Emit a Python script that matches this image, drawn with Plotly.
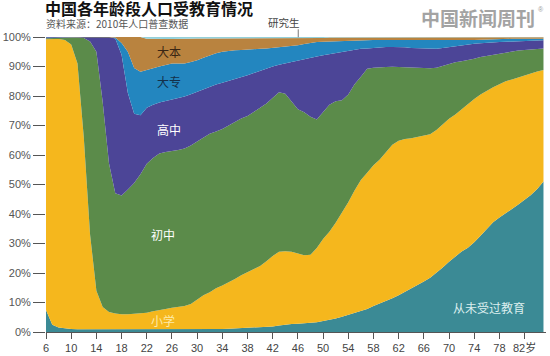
import plotly.graph_objects as go

ages = list(range(6, 86))

# cumulative upper boundary of each layer (% of age group)
never_top = [7.5, 2.5, 1.5, 1.2, 1.0, 0.9, 0.9, 0.9, 0.9, 0.9,
             0.9, 0.9, 0.9, 0.9, 0.9, 0.8, 0.8, 0.8, 0.8, 0.8,
             0.8, 0.8, 0.8, 0.8, 0.8, 0.9, 0.9, 1.0, 1.0, 1.1,
             1.2, 1.3, 1.4, 1.5, 1.5, 1.6, 1.9, 2.2, 2.5, 2.7,
             2.8, 2.9, 3.1, 3.3, 3.7, 4.1, 4.6, 5.2, 5.8, 6.4,
             7.0, 7.8, 8.8, 9.6, 10.4, 11.4, 12.5, 13.6, 14.8, 16.0,
             17.1, 18.4, 20.0, 21.9, 23.8, 25.5, 27.3, 28.6, 30.4, 32.6,
             34.8, 37.2, 38.8, 40.2, 41.6, 43.2, 44.8, 46.4, 48.5, 51.0]

primary_top = [99.2, 99.3, 99.3, 99.0, 97.5, 91.0, 66.0, 33.0, 14.0, 8.5,
               6.8, 6.3, 6.0, 6.0, 6.1, 6.3, 6.5, 7.0, 7.5, 7.8,
               8.2, 8.5, 8.8, 9.5, 11.0, 12.5, 13.5, 14.8, 15.8, 16.8,
               18.0, 19.2, 20.3, 21.4, 22.4, 24.0, 25.8, 27.2, 27.4, 27.2,
               26.6, 26.0, 26.2, 28.5, 31.5, 34.0, 37.0, 40.5, 44.0, 48.0,
               51.5, 54.0, 56.5, 58.5, 61.0, 63.5, 64.8, 65.4, 65.7, 66.1,
               66.5, 67.0, 68.5, 70.5, 72.3, 73.7, 75.5, 77.3, 79.0, 80.5,
               81.8, 83.0, 84.0, 85.0, 85.6, 86.3, 87.0, 87.7, 88.3, 88.8]

junior_top = [99.6, 99.7, 99.8, 99.8, 99.8, 99.8, 99.7, 98.5, 95.0, 78.0,
              57.2, 47.0, 46.3, 48.3, 50.5, 53.5, 57.0, 59.0, 60.5, 61.0,
              61.3, 61.7, 62.2, 63.2, 64.6, 66.0, 67.2, 68.0, 68.8, 70.0,
              71.2, 72.4, 73.2, 74.5, 76.0, 77.5, 79.5, 81.3, 80.8, 78.0,
              75.5, 74.5, 73.0, 72.0, 74.5, 77.0, 78.2, 78.6, 80.5, 84.0,
              86.5, 89.2, 89.6, 89.8, 89.8, 89.9, 89.8, 89.6, 89.6, 89.5,
              89.4, 89.4, 89.6, 90.2, 91.0, 91.4, 91.8, 92.1, 92.6, 93.2,
              93.6, 94.0, 94.4, 94.8, 95.1, 95.4, 95.6, 95.8, 96.0, 96.1]

senior_top = [99.9, 99.9, 99.9, 99.9, 99.9, 99.9, 99.95, 100, 100, 100,
              100, 99.5, 94.0, 81.0, 74.0, 73.5, 76.0, 77.0, 77.8, 78.3,
              78.8, 79.3, 79.8, 80.6, 81.4, 82.3, 83.2, 83.9, 84.5, 85.1,
              85.8, 86.4, 87.0, 87.8, 88.6, 89.3, 90.0, 90.6, 91.1, 91.6,
              92.1, 92.6, 93.0, 93.4, 93.8, 94.2, 94.6, 95.0, 95.4, 95.7,
              96.0, 96.1, 96.3, 96.5, 96.6, 96.6, 96.6, 96.5, 96.3, 96.2,
              96.1, 96.0, 96.0, 96.3, 96.6, 97.0, 97.3, 97.5, 97.7, 97.9,
              98.1, 98.2, 98.3, 98.4, 98.5, 98.6, 98.7, 98.8, 98.9, 98.9]

college_top = [100, 100, 100, 100, 100, 100, 100, 100, 100, 100,
               100, 99.8, 98.0, 95.0, 89.5, 88.2, 88.8, 89.5, 90.0, 90.5,
               91.0, 91.0, 91.0, 91.5, 92.1, 93.0, 93.8, 94.5, 95.0, 95.3,
               95.5, 95.6, 95.8, 95.9, 96.0, 96.1, 96.3, 96.6, 96.8, 97.0,
               97.2, 97.6, 98.0, 98.3, 98.4, 98.5, 98.6, 98.7, 98.7, 98.8,
               98.9, 98.9, 99.0, 99.0, 99.0, 99.0, 99.0, 99.0, 99.0, 99.0,
               99.0, 98.9, 98.8, 98.8, 98.8, 98.8, 98.8, 98.9, 99.0, 99.1,
               99.2, 99.3, 99.3, 99.4, 99.4, 99.4, 99.4, 99.4, 99.4, 99.4]

bachelor_top = [100, 100, 100, 100, 100, 100, 100, 100, 100, 100,
                100, 100, 100, 100, 100, 100, 99.4, 99.3, 99.3, 99.3,
                99.3, 99.4, 99.4, 99.5, 99.5, 99.5, 99.5, 99.6, 99.6, 99.6,
                99.6, 99.6, 99.6, 99.6, 99.6, 99.7, 99.7, 99.7, 99.7, 99.7,
                99.7, 99.7, 99.7, 99.7, 99.7, 99.8, 99.8, 99.8, 99.8, 99.8,
                99.8, 99.8, 99.8, 99.8, 99.8, 99.8, 99.8, 99.8, 99.9, 99.9,
                99.9, 99.9, 99.9, 99.9, 99.9, 99.9, 99.9, 99.9, 99.9, 99.9,
                99.9, 99.9, 99.9, 99.9, 99.9, 99.9, 99.9, 99.9, 99.9, 99.9]

grad_top = [100] * len(ages)

layer_names = ["从未受过教育", "小学", "初中", "高中", "大专", "大本", "研究生"]
layer_colors = ["#3b8a95", "#f5b71d", "#5b8b4a", "#4c4597", "#2386bf", "#b9833f", "#93d0da"]

tick_vals = [6, 10, 14, 18, 22, 26, 30, 34, 38, 42, 46, 50, 54, 58, 62, 66, 70, 74, 78, 82]
tick_text = ["6", "10", "14", "18", "22", "26", "30", "34", "38", "42", "46",
             "50", "54", "58", "62", "66", "70", "74", "78", "82岁"]
y_vals = [0, 10, 20, 30, 40, 50, 60, 70, 80, 90, 100]
y_text = ["0%", "10%", "20%", "30%", "40%", "50%", "60%", "70%", "80%", "90%", "100%"]

tops = [never_top, primary_top, junior_top, senior_top, college_top, bachelor_top, grad_top]

fig = go.Figure()
for i, (name, col, top) in enumerate(zip(layer_names, layer_colors, tops)):
    fig.add_trace(go.Scatter(
        x=ages, y=top, name=name, mode="lines",
        line=dict(width=0, color=col),
        fill="tozeroy" if i == 0 else "tonexty",
        fillcolor=col, hoverinfo="skip", showlegend=False))

CJK = "Noto Sans CJK SC"
annos = [
    ("大本", 25.5, 95.2, "#3a2614", 12),
    ("大专", 25.5, 84.8, "#14304a", 12),
    ("高中", 25.5, 68.5, "#ffffff", 12),
    ("初中", 24.5, 33.0, "#ffffff", 12),
    ("小学", 24.5, 3.8, "#fdeaa8", 12),
    ("从未受过教育", 76.3, 8.4, "#dcefef", 12),
]
for t, ax, ay, c, s in annos:
    fig.add_annotation(x=ax, y=ay, text=t, showarrow=False, xref="x", yref="y",
                       font=dict(family=CJK, size=s, color=c))

L, R, T, B = 45.5, 4, 36.7, 24
W, H = 550, 356
fig.update_layout(
    width=W, height=H,
    margin=dict(l=L, r=R, t=T, b=B, autoexpand=False),
    paper_bgcolor="white", plot_bgcolor="white",
    font=dict(family="Liberation Sans, " + CJK, size=11, color="#555555"),
    xaxis=dict(range=[6, 85.4], tickmode="array", tickvals=tick_vals, ticktext=tick_text,
               ticks="outside", ticklen=6, tickwidth=1.3, tickcolor="#555555",
               showline=True, linecolor="#555555", linewidth=1.3,
               showgrid=False, zeroline=False, automargin=False,
               tickfont=dict(family="Liberation Sans, " + CJK, size=11, color="#444444")),
    yaxis=dict(range=[0, 100], tickmode="array", tickvals=y_vals, ticktext=y_text,
               ticks="outside", ticklen=12, tickwidth=1.3, tickcolor="#555555",
               showline=False, showgrid=False, zeroline=False, automargin=False,
               tickfont=dict(family="Liberation Sans", size=11, color="#555555")),
)

pw = W - L - R
ph = H - T - B
def px(x):
    return (x - L) / pw
def py(y):
    return (H - B - y) / ph

fig.add_annotation(x=px(43), y=py(8), xref="paper", yref="paper",
                   text="<b>中国各年龄段人口受教育情况</b>", showarrow=False,
                   xanchor="left", yanchor="middle", borderpad=0,
                   font=dict(family=CJK, size=16, color="#111111"))
fig.add_annotation(x=px(44), y=py(23.5), xref="paper", yref="paper",
                   text="资料来源：2010年人口普查数据", showarrow=False,
                   xanchor="left", yanchor="middle", borderpad=0,
                   font=dict(family=CJK, size=10, color="#555555"))
fig.add_annotation(x=px(284), y=py(22), xref="paper", yref="paper",
                   text="研究生", showarrow=False, xanchor="center", yanchor="middle",
                   borderpad=0,
                   font=dict(family=CJK, size=10.5, color="#444444"))
fig.add_shape(type="line", xref="paper", yref="paper",
              x0=px(298), x1=px(298), y0=py(29), y1=py(37),
              line=dict(color="#777777", width=1))
fig.add_annotation(x=px(478), y=py(17), xref="paper", yref="paper",
                   text="<b>中国新闻周刊</b>", showarrow=False, xanchor="center", yanchor="middle",
                   borderpad=0,
                   font=dict(family=CJK, size=19, color="#a3a3a3"))
fig.add_annotation(x=px(541), y=py(9), xref="paper", yref="paper",
                   text="®", showarrow=False, xanchor="center", yanchor="middle",
                   borderpad=0,
                   font=dict(family="Liberation Sans", size=7, color="#9a9a9a"))

fig.write_html("out.html", config={"displayModeBar": False},
               post_script="document.body.style.margin='0';document.body.style.overflow='hidden';")
